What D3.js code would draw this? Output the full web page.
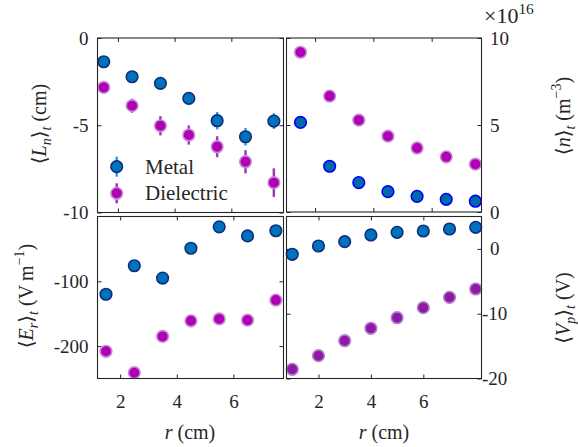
<!DOCTYPE html>
<html><head><meta charset="utf-8">
<script src="https://cdn.jsdelivr.net/npm/d3@7"></script>
<style>
body{margin:0;background:#fff}
svg{display:block}
svg text{font-family:"Liberation Serif","Times New Roman","Tinos","DejaVu Serif","Noto Serif",serif;fill:#262626}
</style>
</head><body><svg id="c" width="578" height="447"></svg>
<script>
// ---------- data ----------
const rHalf = [1.5, 2.5, 3.5, 4.5, 5.5, 6.5, 7.5];
const rInt = [1, 2, 3, 4, 5, 6, 7, 8];
const lnMetal = [-1.36, -2.22, -2.6, -3.46, -4.74, -5.66, -4.76];
const lnMetalErr = [0.25, 0.25, 0.25, 0.3, 0.5, 0.5, 0.45];
const lnDiel = [-2.83, -3.88, -5.03, -5.56, -6.23, -7.09, -8.29];
const lnDielErr = [0.3, 0.4, 0.55, 0.55, 0.6, 0.66, 0.82];
const nMetal = [5.15, 2.63, 1.69, 1.17, 0.9, 0.73, 0.62];
const nDiel = [9.18, 6.66, 5.28, 4.36, 3.68, 3.17, 2.75];
const erMetal = [-120, -76, -95, -49, -16, -30, -22];
const erDiel = [-208, -241, -185, -161, -158, -160, -129];
const vpMetal = [-0.83, 0.45, 1.11, 2.15, 2.56, 2.76, 3.07, 3.33];
const vpDiel = [-18.58, -16.48, -14.17, -12.25, -10.62, -9.07, -7.47, -6.19];
const xTicks = [2, 4, 6];
const lnTicks = [0, -5, -10];
const nTicks = [0, 5, 10];
const erTicks = [-100, -200];
const vpTicks = [0, -10, -20];
const seriesNames = ["Metal", "Dielectric"];

// ---------- styles ----------
const metal = {fill: "#0072bd", stroke: "#0d2f78", err: "#2c9cf0"};
const metalN = {fill: "#006aa6", stroke: "#0000ff", err: "#2c9cf0"};
const diel = {fill: "#b000b5", stroke: "#c98ad6", err: "#9a3cb6"};
const dielV = {fill: "#9018a8", stroke: "#b080c8", err: "#9a3cb6"};

const svg = d3.select("#c");
const FS = 19;

const panels = [
  {x0: 97.5, x1: 283.5, y0: 38, y1: 212.5, xd: [1.28, 7.84], yd: [-10, 0], side: "left", yt: lnTicks, xl: false,
   series: [{x: rHalf, y: lnDiel, e: lnDielErr, s: diel}, {x: rHalf, y: lnMetal, e: lnMetalErr, s: metal}]},
  {x0: 286.5, x1: 481.5, y0: 38, y1: 212, xd: [1.02, 7.71], yd: [0, 10], side: "right", yt: nTicks, xl: false,
   series: [{x: rHalf, y: nDiel, s: diel}, {x: rHalf, y: nMetal, s: metalN}]},
  {x0: 97.5, x1: 283.5, y0: 216.5, y1: 378.5, xd: [1.2, 7.77], yd: [-250, 0], side: "left", yt: erTicks, xl: true,
   series: [{x: rHalf, y: erMetal, s: metal}, {x: rHalf, y: erDiel, s: diel}]},
  {x0: 286.5, x1: 481.5, y0: 216.5, y1: 378.5, xd: [0.78, 8.22], yd: [-20, 5], side: "right", yt: vpTicks, xl: true,
   series: [{x: rInt, y: vpMetal, s: metal}, {x: rInt, y: vpDiel, s: dielV}]}
];

const fmt = d => String(d);

panels.forEach(p => {
  const x = d3.scaleLinear().domain(p.xd).range([p.x0, p.x1]);
  const y = d3.scaleLinear().domain(p.yd).range([p.y1, p.y0]);
  const g = svg.append("g");

  const ab = g.append("g").attr("transform", `translate(0,${p.y1})`)
    .call(d3.axisBottom(x).tickValues(xTicks).tickSizeInner(-4).tickSizeOuter(0).tickPadding(16)
      .tickFormat(p.xl ? fmt : () => ""));
  const at = g.append("g").attr("transform", `translate(0,${p.y0})`)
    .call(d3.axisTop(x).tickValues(xTicks).tickSizeInner(-4).tickSizeOuter(0).tickFormat(() => ""));
  const yLab = p.side === "left"
    ? d3.axisLeft(y).tickValues(p.yt).tickSizeInner(-4).tickSizeOuter(0).tickPadding(9).tickFormat(fmt)
    : d3.axisRight(y).tickValues(p.yt).tickSizeInner(-4).tickSizeOuter(0).tickPadding(8.5).tickFormat(fmt);
  const yMir = p.side === "left"
    ? d3.axisRight(y).tickValues(p.yt).tickSizeInner(-4).tickSizeOuter(0).tickFormat(() => "")
    : d3.axisLeft(y).tickValues(p.yt).tickSizeInner(-4).tickSizeOuter(0).tickFormat(() => "");
  const al = g.append("g").attr("transform", `translate(${p.side === "left" ? p.x0 : p.x1},0)`).call(yLab);
  const am = g.append("g").attr("transform", `translate(${p.side === "left" ? p.x1 : p.x0},0)`).call(yMir);

  [ab, at, al, am].forEach(a => {
    a.attr("font-family", null).attr("font-size", null);
    a.select(".domain").remove();
    a.selectAll(".tick line").attr("stroke", "#262626").attr("stroke-width", 1);
    a.selectAll("text").style("font-size", FS + "px").attr("fill", "#262626");
  });
  if (p.side === "right") {
    al.selectAll("text").attr("dx", d => d < 0 ? -8 : 0);
  }

  p.series.forEach(s => {
    const pts = s.x.map((xv, i) => ({x: xv, y: s.y[i], e: s.e ? s.e[i] : 0}));
    g.selectAll(null).data(pts.filter(d => d.e > 0)).enter().append("line")
      .attr("x1", d => x(d.x)).attr("x2", d => x(d.x))
      .attr("y1", d => y(d.y - d.e)).attr("y2", d => y(d.y + d.e))
      .attr("stroke", s.s.err).attr("stroke-width", 2.5);
    g.selectAll(null).data(pts).enter().append("circle")
      .attr("cx", d => x(d.x)).attr("cy", d => y(d.y)).attr("r", 5.8)
      .attr("fill", s.s.fill).attr("stroke", s.s.stroke).attr("stroke-width", 1.6);
  });

  g.append("rect").attr("x", p.x0).attr("y", p.y0).attr("width", p.x1 - p.x0).attr("height", p.y1 - p.y0)
    .attr("fill", "none").attr("stroke", "#262626").attr("stroke-width", 1.1);
});

// legend
const leg = svg.append("g");
[{name: seriesNames[0], s: metal, y: 166.7}, {name: seriesNames[1], s: diel, y: 193.3}].forEach(it => {
  leg.append("line").attr("x1", 116.7).attr("x2", 116.7).attr("y1", it.y - 10).attr("y2", it.y + 10)
    .attr("stroke", it.s.err).attr("stroke-width", 2.5);
  leg.append("circle").attr("cx", 116.7).attr("cy", it.y).attr("r", 5.8)
    .attr("fill", it.s.fill).attr("stroke", it.s.stroke).attr("stroke-width", 1.6);
  leg.append("text").attr("x", 145).attr("y", it.y + 7).style("font-size", "21px").text(it.name);
});

function rich(sel, parts, size) {
  parts.forEach(pt => {
    const ts = sel.append("tspan").text(pt.t).style("font-size", size + "px");
    if (pt.i) ts.attr("font-style", "italic");
    if (pt.sub) ts.style("font-size", (size * 0.7) + "px").attr("dy", pt.dy0 || 5);
    if (pt.sup) ts.style("font-size", (size * 0.7) + "px").attr("dy", pt.dy0 || -8);
    if (pt.back) ts.attr("dy", pt.back);
  });
}

function ylab(cx, cy, parts) {
  const t = svg.append("text").attr("transform", `translate(${cx},${cy}) rotate(-90)`)
    .attr("text-anchor", "middle");
  rich(t, parts, 20);
}
ylab(46, 124, [{t: "⟨"}, {t: "L", i: true}, {t: "n", i: true, sub: true}, {t: "⟩", back: -5},
  {t: "t", i: true, sub: true}, {t: " (cm)", back: -5}]);
ylab(33, 296, [{t: "⟨"}, {t: "E", i: true}, {t: "r", i: true, sub: true}, {t: "⟩", back: -5},
  {t: "t", i: true, sub: true}, {t: " (V\u2009m", back: -5}, {t: "−1", sup: true, dy0: -9}, {t: ")", back: 9}]);
ylab(570, 116, [{t: "⟨"}, {t: "n", i: true}, {t: "⟩"}, {t: "t", i: true, sub: true},
  {t: " (m", back: -5}, {t: "−3", sup: true, dy0: -9}, {t: ")", back: 9}]);
ylab(570, 308, [{t: "⟨"}, {t: "V", i: true}, {t: "p", i: true, sub: true}, {t: "⟩", back: -5},
  {t: "t", i: true, sub: true}, {t: " (V)", back: -5}]);

function xlab(cx, cy) {
  const t = svg.append("text").attr("x", cx).attr("y", cy).attr("text-anchor", "middle");
  rich(t, [{t: "r", i: true}, {t: "  (cm)"}], 20);
}
xlab(190, 439);
xlab(384, 439);

const ex = svg.append("text").attr("x", 484).attr("y", 23);
rich(ex, [{t: "×10"}, {t: "16", sup: true, dy0: -9}], 22);
</script></body></html>
